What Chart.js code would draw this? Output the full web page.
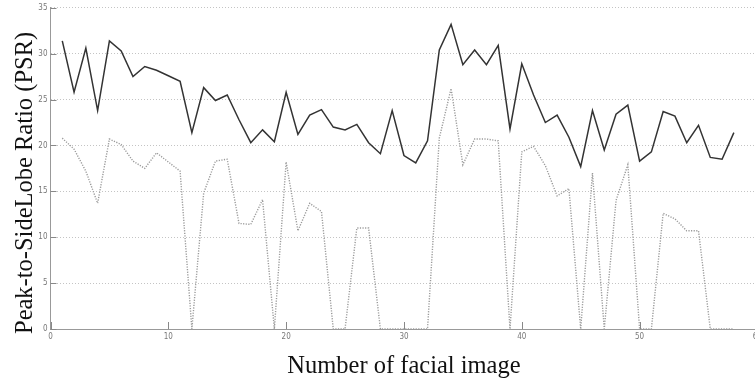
<!DOCTYPE html>
<html>
<head>
<meta charset="utf-8">
<script src="https://cdn.jsdelivr.net/npm/chart.js@4/dist/chart.umd.min.js"></script>
<style>
  html, body { margin: 0; padding: 0; background: #fff; overflow: hidden; }
  #wrap { width: 765px; height: 381px; position: relative; }
</style>
</head>
<body>
<div id="wrap"><canvas id="psrChart"></canvas></div>
<script>
// facial image numbers (x) and PSR values
const imageNumbers = [1, 2, 3, 4, 5, 6, 7, 8, 9, 10, 11, 12, 13, 14, 15, 16, 17, 18, 19, 20,
    21, 22, 23, 24, 25, 26, 27, 28, 29, 30, 31, 32, 33, 34, 35, 36, 37, 38, 39, 40,
    41, 42, 43, 44, 45, 46, 47, 48, 49, 50, 51, 52, 53, 54, 55, 56, 57, 58];

const psrSolid = [31.4, 25.8, 30.6, 23.8, 31.4, 30.3, 27.5, 28.6, 28.2, 27.6, 27.0, 21.4, 26.3, 24.9, 25.5, 22.8, 20.3, 21.7, 20.4, 25.8,
    21.2, 23.3, 23.9, 22.0, 21.7, 22.3, 20.3, 19.1, 23.8, 18.9, 18.1, 20.5, 30.4, 33.2, 28.8, 30.4, 28.8, 30.9, 21.8, 28.9,
    25.5, 22.5, 23.3, 20.9, 17.7, 23.8, 19.5, 23.4, 24.4, 18.3, 19.3, 23.7, 23.2, 20.3, 22.2, 18.7, 18.5, 21.4];

const psrDotted = [20.8, 19.6, 17.2, 13.7, 20.7, 20.1, 18.3, 17.5, 19.2, 18.2, 17.2, 0, 14.8, 18.3, 18.5, 11.5, 11.4, 14.1, 0, 18.2,
    10.7, 13.7, 12.8, 0, 0, 11.0, 11.0, 0, 0, 0, 0, 0, 20.8, 26.2, 17.9, 20.7, 20.7, 20.5, 0, 19.3,
    19.9, 17.8, 14.5, 15.3, 0, 17.0, 0, 14.0, 17.9, 0, 0, 12.6, 12.0, 10.7, 10.7, 0, 0, 0];

const xTicks = [0, 10, 20, 30, 40, 50, 60];
const yTicks = [0, 5, 10, 15, 20, 25, 30, 35];

const xTitle = 'Number of facial image';
const yTitle = 'Peak-to-SideLobe Ratio (PSR)';

const tickFont = { family: '"Liberation Sans Narrow", "DejaVu Sans Condensed", sans-serif', size: 8 };
const titleFontCss = '24.5px "Liberation Serif", "DejaVu Serif", serif';

// short tick marks pointing into the plot, like the original figure
const innerTicks = {
    id: 'innerTicks',
    afterDraw(chart) {
        const ctx = chart.ctx;
        const x = chart.scales.x, y = chart.scales.y;
        ctx.save();
        ctx.strokeStyle = '#888';
        ctx.lineWidth = 1;
        ctx.beginPath();
        xTicks.forEach(function (v) {
            const px = Math.round(x.getPixelForValue(v)) + 0.5;
            ctx.moveTo(px, y.bottom);
            ctx.lineTo(px, y.bottom - 7);
        });
        yTicks.forEach(function (v) {
            const py = Math.round(y.getPixelForValue(v)) + 0.5;
            ctx.moveTo(x.left, py);
            ctx.lineTo(x.left + 6, py);
        });
        ctx.stroke();
        ctx.restore();
    }
};

// axis titles in a serif font, placed like the figure
const axisTitles = {
    id: 'axisTitles',
    afterDraw(chart) {
        const ctx = chart.ctx;
        const area = chart.chartArea;
        ctx.save();
        ctx.fillStyle = '#111';
        ctx.font = titleFontCss;
        ctx.textBaseline = 'alphabetic';
        // x title under the axis
        ctx.textAlign = 'center';
        ctx.fillText(xTitle, (area.left + area.right) / 2, area.bottom + 44);
        // y title, read bottom to top
        ctx.translate(31.5, area.bottom + 5);
        ctx.rotate(-Math.PI / 2);
        ctx.textAlign = 'left';
        ctx.fillText(yTitle, 0, 0);
        ctx.restore();
    }
};

const ctx = document.getElementById('psrChart').getContext('2d');
new Chart(ctx, {
    type: 'line',
    data: {
        datasets: [
            {
                label: 'PSR',
                data: imageNumbers.map((n, i) => ({ x: n, y: psrSolid[i] })),
                borderColor: '#333',
                borderWidth: 1.5,
                pointRadius: 0,
                tension: 0,
            },
            {
                label: 'PSR (dotted)',
                data: imageNumbers.map((n, i) => ({ x: n, y: psrDotted[i] })),
                borderColor: '#9a9a9a',
                borderWidth: 1.4,
                borderDash: [1.2, 1.4],
                pointRadius: 0,
                tension: 0,
            },
        ],
    },
    options: {
        responsive: true,
        maintainAspectRatio: false,
        animation: false,
        layout: { padding: { top: 6, right: 0, left: 0, bottom: 0 } },
        plugins: {
            legend: { display: false },
            tooltip: { enabled: false },
        },
        scales: {
            x: {
                type: 'linear',
                min: 0,
                max: 60,
                afterBuildTicks: function (scale) {
                    scale.ticks = xTicks.map(v => ({ value: v }));
                },
                afterFit: function (scale) { scale.height = 52; },
                grid: { display: true, drawOnChartArea: false, drawTicks: false, color: '#999' },
                border: { display: true, color: '#999', width: 1 },
                ticks: { color: '#777', font: tickFont, padding: 3, maxRotation: 0 },
            },
            y: {
                min: 0,
                max: 35,
                afterBuildTicks: function (scale) {
                    scale.ticks = yTicks.map(v => ({ value: v }));
                },
                afterFit: function (scale) { scale.width = 50.5; },
                grid: { color: '#c4c4c4', drawTicks: false },
                border: { display: true, color: '#999', width: 1, dash: [1, 2] },
                ticks: { color: '#777', font: tickFont, padding: 3 },
            },
        },
    },
    plugins: [innerTicks, axisTitles],
});
</script>
</body>
</html>
